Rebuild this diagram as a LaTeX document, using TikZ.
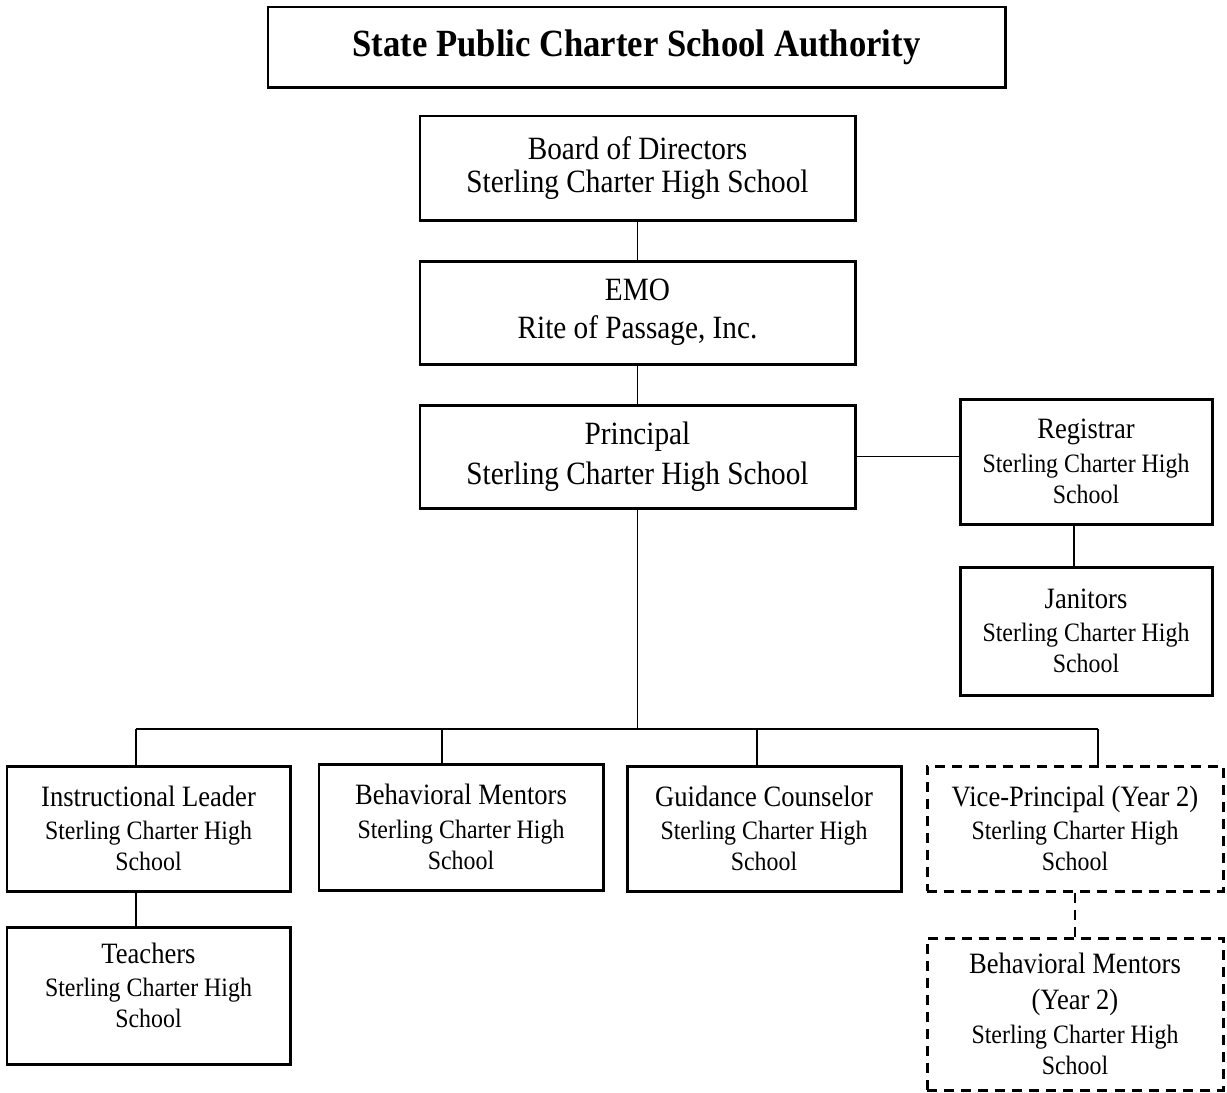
\documentclass[tikz,border=0pt]{standalone}
\usepackage{fontspec}
\setmainfont[FakeStretch=0.9]{Liberation Serif}
\newcommand{\hd}[1]{{\fontsize{16.8}{19.3}\selectfont #1}}

\begin{document}
\begin{tikzpicture}[x=0.2mm, y=-0.2mm,
  box/.style={draw, line width=1.7pt, inner sep=2pt, align=center, font=\fontsize{15.1}{17.6}\selectfont},
  big/.style={box, minimum width=87mm, minimum height=20.6mm},
  small/.style={box, minimum height=25mm},
  future/.style={dash pattern=on 5.7pt off 4pt},
  link/.style={line width=1pt}]

\useasboundingbox (0,0) rectangle (1227,1092);

\node[box, minimum width=147.4mm, minimum height=16mm, font=\fontsize{21.9}{26}\selectfont\bfseries] (authority) at (636.5,47) {State Public Charter School Authority};

\node[big, minimum height=20.8mm, font=\fontsize{18.5}{18.8}\selectfont] (board) at (637.5,168) {Board of Directors\\Sterling Charter High School};
\node[big, font=\fontsize{18.5}{21.6}\selectfont] (emo) at (637.5,312.5) {EMO\\Rite of Passage, Inc.};
\node[big, font=\fontsize{18.5}{22.8}\selectfont] (principal) at (637.5,456.5) {Principal\\Sterling Charter High School};

\node[small, minimum width=50.4mm] (registrar) at (1086,461.5) {\hd{Registrar}\\[1.5pt]Sterling Charter High\\School};
\node[small, minimum width=50.4mm, minimum height=25.6mm] (janitors) at (1086,631) {\hd{Janitors}\\[1.5pt]Sterling Charter High\\School};

\node[small, minimum width=56.6mm] (instr) at (148.5,828.5) {\hd{Instructional Leader}\\[1.5pt]Sterling Charter High\\School};
\node[small, minimum width=56.8mm, minimum height=25.2mm] (behav) at (461,827) {\hd{Behavioral Mentors}\\[1.5pt]Sterling Charter High\\School};
\node[small, minimum width=54.8mm] (guid) at (764,828.5) {\hd{Guidance Counselor}\\[1.5pt]Sterling Charter High\\School};
\node[small, future, minimum width=59.2mm] (vp) at (1075,828.5) {\hd{Vice-Principal (Year 2)}\\[1.5pt]Sterling Charter High\\School};

\node[small, minimum width=56.6mm, minimum height=27.4mm] (teachers) at (148.5,995.5) {\hd{Teachers}\\[1.5pt]Sterling Charter High\\School\\[-6pt]\mbox{}};
\node[small, future, minimum width=59.2mm, minimum height=30.4mm] (mentors2) at (1075,1014) {\hd{Behavioral Mentors}\\[3pt]\hd{(Year 2)}\\[1.5pt]Sterling Charter High\\School};

% bus under the principal
\coordinate (busL) at (136,729);
\coordinate (busR) at (1098,729);
\coordinate (tapB) at (442,729);
\coordinate (tapG) at (757,729);

\draw[link] (board) -- (emo);
\draw[link] (emo) -- (principal);
\draw[link] (principal) -- (principal -| registrar.west);
\draw[link] ([xshift=-2.4mm]registrar.south) -- ([xshift=-2.4mm]janitors.north);
\draw[link] (principal) -- (principal |- busL);
\draw[line width=1.3pt] (busL) -- (busR);
\draw[link] (busL) -- (busL |- instr.north);
\draw[link] (tapB) -- (tapB |- behav.north);
\draw[link] (tapG) -- (tapG |- guid.north);
\draw[link] (busR) -- (busR |- vp.north);
\draw[link] (busL |- instr.south) -- (busL |- teachers.north);
\draw[link, future] (vp) -- (mentors2);
\end{tikzpicture}
\end{document}
